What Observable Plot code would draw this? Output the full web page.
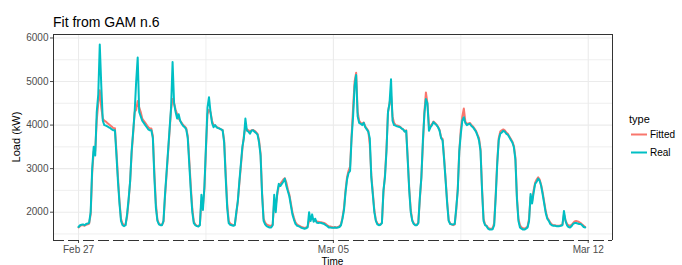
<!DOCTYPE html>
<html>
<head>
<meta charset="utf-8">
<script src="https://cdn.jsdelivr.net/npm/d3@7"></script>
<script src="https://cdn.jsdelivr.net/npm/@observablehq/plot@0.6"></script>
<style>
  html, body { margin: 0; padding: 0; background: #fff; }
  #wrap { position: relative; width: 682px; height: 265px; overflow: hidden; }
</style>
</head>
<body>
<div id="wrap"></div>
<script>
// ---- data (hourly, starting 2012-02-27 00:00) ----
const startTime = "2012-02-27T00:00:00Z";
const seriesNames = ["Fitted", "Real"];
const seriesColors = ["#F8766D", "#00BFC4"];

const real = [
  // Feb 27
  1660,1700,1710,1720,1700,1730,1740,1760,2000,3000,3500,3300,4300,4700,5850,4900,4100,4000,3990,3970,3950,3930,3900,3880,
  // Feb 28
  3880,3300,2700,2200,1800,1700,1680,1700,1950,2300,2700,3400,3850,4300,5000,5550,4300,4200,4100,4050,4000,3950,3900,3880,
  // Feb 29
  3880,3700,2800,2100,1800,1720,1700,1700,1800,2400,2900,3400,3900,4400,5450,4500,4300,4150,4250,4100,4030,3980,3950,3900,
  // Mar 01
  3700,3100,2500,2000,1750,1700,1680,1670,1700,2400,2050,2600,3500,4400,4640,4300,4050,3950,4000,3950,3930,3920,3900,3880,
  // Mar 02
  3600,2800,2100,1750,1710,1700,1690,1700,2000,2250,2700,3100,3500,3700,4150,3870,3850,3800,3870,3880,3850,3820,3780,3600,
  // Mar 03
  3300,2400,1800,1720,1680,1660,1650,1650,1700,2400,2000,2450,2650,2600,2650,2700,2770,2600,2480,2360,2150,1950,1830,1730,
  // Mar 04
  1690,1680,1660,1640,1630,1620,1630,1650,2000,1800,1950,1780,1850,1760,1750,1760,1750,1740,1730,1700,1680,1650,1650,1640,
  // Mar 05
  1640,1650,1640,1650,1660,1700,1850,2050,2450,2750,2900,2950,3700,4200,4900,5150,4200,4050,4030,4000,4050,3950,3900,3850,
  // Mar 06
  3700,2800,2400,2000,1800,1720,1700,1710,1750,2500,2800,3400,4300,4500,5050,4100,4000,3990,3970,3960,3950,3920,3900,3850,
  // Mar 07
  3870,3200,2500,2000,1800,1730,1700,1700,1750,2340,2800,3640,4260,4600,4500,3870,3950,4000,4070,4030,4000,3950,3870,3700,
  // Mar 08
  3650,3200,2720,2200,1800,1730,1720,1720,1730,2100,2500,3400,3800,4100,4180,4050,4000,4020,4030,3980,3950,3900,3850,3760,
  // Mar 09
  3650,3400,2500,1800,1700,1680,1620,1600,1600,1610,1700,2340,3100,3650,3800,3830,3870,3850,3800,3780,3720,3660,3600,3490,
  // Mar 10
  3200,2300,1800,1650,1620,1600,1600,1620,1650,1800,2420,2200,2450,2650,2700,2770,2720,2600,2400,2190,1980,1850,1800,1730,
  // Mar 11
  1700,1690,1690,1680,1680,1680,1690,1700,2030,1800,1700,1660,1650,1680,1730,1750,1750,1740,1730,1730,1700,1660,1650
];

const fitted = [
  // Feb 27
  1650,1680,1700,1700,1690,1710,1720,1740,1950,2900,3400,3400,4100,4500,4800,4400,4150,4100,4080,4050,4020,3990,3960,3930,
  // Feb 28
  3930,3400,2800,2250,1850,1740,1700,1720,1900,2250,2700,3350,3800,4300,4350,4550,4400,4300,4150,4100,4050,4000,3950,3920,
  // Feb 29
  3920,3750,2900,2200,1830,1740,1710,1710,1780,2350,2850,3350,3850,4350,4600,4500,4350,4250,4150,4100,4050,4000,3970,3930,
  // Mar 01
  3750,3200,2600,2080,1780,1720,1690,1680,1720,2250,2150,2550,3450,4250,4350,4300,4100,4000,3990,3960,3940,3920,3900,3890,
  // Mar 02
  3650,2900,2200,1800,1740,1720,1700,1710,1950,2250,2650,3050,3450,3750,3950,3900,3880,3850,3880,3890,3870,3840,3800,3650,
  // Mar 03
  3350,2450,1850,1760,1720,1700,1690,1690,1720,2250,2150,2400,2600,2650,2700,2750,2780,2680,2520,2400,2200,2000,1870,1770,
  // Mar 04
  1720,1700,1680,1660,1650,1640,1650,1670,1800,1850,1850,1830,1800,1790,1780,1770,1770,1760,1750,1730,1700,1680,1670,1660,
  // Mar 05
  1650,1660,1650,1660,1680,1720,1880,2100,2500,2800,2950,3050,3750,4400,5000,5200,4300,4100,4050,4030,4060,3970,3920,3870,
  // Mar 06
  3550,2850,2450,2050,1820,1740,1720,1720,1760,2450,2850,3450,4300,4500,4680,4200,4050,4000,3990,3980,3960,3930,3900,3860,
  // Mar 07
  3880,3250,2550,2050,1820,1740,1710,1710,1760,2300,2800,3550,4300,4750,4500,4000,3980,4020,4080,4050,4010,3960,3890,3720,
  // Mar 08
  3680,3250,2750,2250,1820,1740,1720,1700,1720,2050,2550,3400,3900,4200,4380,4080,4020,4040,4050,4000,3970,3920,3870,3780,
  // Mar 09
  3700,3450,2550,1850,1720,1690,1640,1620,1620,1630,1750,2400,3150,3700,3850,3880,3900,3880,3830,3800,3740,3680,3620,3520,
  // Mar 10
  3250,2350,1850,1700,1650,1630,1620,1640,1670,1850,2350,2250,2500,2680,2750,2800,2750,2620,2450,2230,2020,1880,1820,1760,
  // Mar 11
  1720,1700,1700,1690,1690,1690,1700,1720,1950,1820,1730,1700,1690,1710,1750,1790,1800,1790,1770,1750,1720,1690,1660
];

const yTicks = [2000, 3000, 4000, 5000, 6000];
const yMinorTicks = [1500, 2500, 3500, 4500, 5500];
const xTickDates = ["2012-02-27", "2012-03-05", "2012-03-12"];
const xMinorDates = ["2012-03-01T12:00:00Z", "2012-03-08T12:00:00Z"];
const yDomain = [1350, 6080];
const xDomainDates = ["2012-02-26T07:30:00Z", "2012-03-12T16:00:00Z"];

// ---- build table ----
const t0 = new Date(startTime).getTime();
const hour = 3600e3;
const rows = [];
fitted.forEach((v, i) => rows.push({time: new Date(t0 + i * hour), load: v, type: "Fitted"}));
real.forEach((v, i) => rows.push({time: new Date(t0 + i * hour), load: v, type: "Real"}));

const xDomain = xDomainDates.map(d => new Date(d));
const xTicks = xTickDates.map(d => new Date(d + "T00:00:00Z"));
const xMinor = xMinorDates.map(d => new Date(d));

const font = "'Liberation Sans', Arial, Helvetica, sans-serif";

const chart = Plot.plot({
  width: 682,
  height: 265,
  marginLeft: 53,
  marginRight: 70,
  marginTop: 34,
  marginBottom: 25,
  style: {fontFamily: font, fontSize: "10px", color: "#4D4D4D", background: "white", overflow: "visible"},
  x: {type: "utc", domain: xDomain, ticks: xTicks, tickFormat: d3.utcFormat("%b %d"), tickSize: 3, tickPadding: 2, label: null},
  y: {domain: yDomain, ticks: yTicks, tickSize: 3, tickPadding: 2, label: null, tickFormat: d => String(d)},
  color: {domain: seriesNames, range: seriesColors},
  marks: [
    Plot.ruleY(yMinorTicks, {stroke: "#EBEBEB", strokeWidth: 0.8}),
    Plot.ruleX(xMinor, {stroke: "#EBEBEB", strokeWidth: 0.8}),
    Plot.ruleY(yTicks, {stroke: "#EBEBEB", strokeWidth: 1.1}),
    Plot.ruleX(xTicks, {stroke: "#EBEBEB", strokeWidth: 1.1}),
    Plot.line(rows.filter(d => d.type === "Fitted"), {x: "time", y: "load", stroke: "type", strokeWidth: 2, strokeLinejoin: "round"}),
    Plot.line(rows.filter(d => d.type === "Real"), {x: "time", y: "load", stroke: "type", strokeWidth: 2, strokeLinejoin: "round"}),
    Plot.ruleX([xDomain[0], xDomain[1]], {stroke: "#333333", strokeWidth: 1}),
    Plot.ruleY([yDomain[1]], {stroke: "#333333", strokeWidth: 1}),
    Plot.ruleY([yDomain[0]], {stroke: "#333333", strokeWidth: 1.1, strokeDasharray: "11,4"})
  ]
});

document.getElementById("wrap").appendChild(chart);

// ---- titles and legend ----
const svg = d3.select(chart);
svg.append("text").attr("x", 53).attr("y", 27).attr("text-anchor", "start")
  .attr("font-family", font).attr("font-size", 14).attr("fill", "#000")
  .text("Fit from GAM n.6");
svg.append("text").attr("transform", "translate(20,137) rotate(-90)")
  .attr("text-anchor", "middle").attr("font-family", font).attr("font-size", 11).attr("fill", "#000")
  .text("Load (kW)");
svg.append("text").attr("x", 332.5).attr("y", 264.5)
  .attr("text-anchor", "middle").attr("font-family", font).attr("font-size", 10).attr("fill", "#000")
  .text("Time");

const leg = svg.append("g");
leg.append("text").attr("x", 629).attr("y", 123).attr("text-anchor", "start")
  .attr("font-family", font).attr("font-size", 11).attr("fill", "#000").text("type");
seriesNames.forEach((name, i) => {
  const cy = 134.5 + i * 18;
  leg.append("line").attr("x1", 631).attr("x2", 647).attr("y1", cy).attr("y2", cy)
    .attr("stroke", seriesColors[i]).attr("stroke-width", 2);
  leg.append("text").attr("x", 650).attr("y", cy + 3.5).attr("text-anchor", "start")
    .attr("font-family", font).attr("font-size", 10).attr("fill", "#000").text(name);
});
</script>
</body>
</html>
